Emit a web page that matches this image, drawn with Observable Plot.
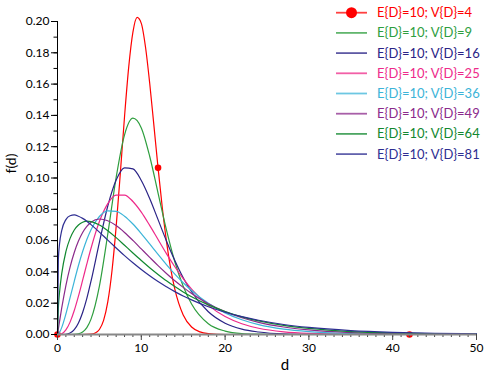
<!DOCTYPE html>
<html>
<head>
<meta charset="utf-8">
<script src="https://cdn.jsdelivr.net/npm/d3@7"></script>
<script src="https://cdn.jsdelivr.net/npm/@observablehq/plot@0.6"></script>
<style>
  html, body { margin: 0; padding: 0; background: #fff; }
  #wrap { position: relative; width: 493px; height: 375px; }
  #legend { position: absolute; left: 0; top: 0; }
</style>
</head>
<body>
<div id="wrap"></div>
<script>
// ---- data ----
const seriesLabels = ["E{D}=10; V{D}=4", "E{D}=10; V{D}=9", "E{D}=10; V{D}=16", "E{D}=10; V{D}=25",
  "E{D}=10; V{D}=36", "E{D}=10; V{D}=49", "E{D}=10; V{D}=64", "E{D}=10; V{D}=81"];
const seriesColors = ["#ff0000", "#2e9e3e", "#2a2386", "#ee2a8a", "#3cb4d8", "#8b2a8b", "#11882f", "#2e2e92"];

// V{D}=4 (own, finer d grid)
const dRed = [0, 3, 4, 4.5, 5, 5.5, 6, 6.5, 7, 7.5, 8, 8.5, 9, 9.5, 10, 10.5, 11, 11.5, 12, 12.5, 13, 13.5, 14, 15, 16, 17, 18, 20, 25, 50];
const fV4 = [0, 0, 0.0002, 0.0009, 0.0032, 0.0090, 0.0208, 0.0406, 0.0689, 0.1033, 0.1393, 0.1710, 0.1932, 0.2026, 0.1988, 0.1837, 0.1607, 0.1338, 0.1065, 0.0813, 0.0597, 0.0423, 0.0290, 0.0125, 0.0048, 0.0017, 0.0006, 0.0000, 0, 0];
const redMarkersD = [0, 12, 42];
const redMarkersF = [0, 0.1065, 0];

// shared d grid for the other series
const d = [0, 0.1, 0.25, 0.5, 1, 1.5, 2, 2.5, 3, 3.5, 4, 5, 6, 7, 8, 9, 10, 11, 12, 13, 14, 15, 16, 18, 20, 22, 24, 27, 30, 35, 40, 45, 50];
const fV9  = [0, 0, 0, 0, 0, 0, 0.0001, 0.00045, 0.0016, 0.0044, 0.0098, 0.0309, 0.0642, 0.1004, 0.1276, 0.1382, 0.1320, 0.1139, 0.0904, 0.0668, 0.0465, 0.0308, 0.0195, 0.0069, 0.0022, 0.0006, 0.0002, 0, 0, 0, 0, 0, 0];
const fV16 = [0, 0, 0, 0, 0.00015, 0.00094, 0.0031, 0.0074, 0.0141, 0.0231, 0.0341, 0.0589, 0.0821, 0.0987, 0.1065, 0.1058, 0.0984, 0.0869, 0.0734, 0.0598, 0.0473, 0.0363, 0.0273, 0.0145, 0.0072, 0.0034, 0.0016, 0.0004, 0.0001, 0, 0, 0, 0];
const fV25 = [0, 0, 0.00006, 0.0004, 0.0029, 0.0079, 0.0153, 0.0245, 0.0347, 0.0451, 0.0551, 0.0722, 0.0836, 0.0890, 0.0891, 0.0850, 0.0782, 0.0697, 0.0607, 0.0517, 0.0433, 0.0357, 0.0290, 0.0186, 0.0115, 0.0069, 0.0040, 0.0017, 0.0007, 0.00015, 0.00003, 0, 0];
const fV36 = [0, 0.0003, 0.0014, 0.0044, 0.0131, 0.0235, 0.0340, 0.0441, 0.0530, 0.0607, 0.0670, 0.0754, 0.0790, 0.0787, 0.0756, 0.0706, 0.0645, 0.0579, 0.0512, 0.0447, 0.0386, 0.0331, 0.0281, 0.0199, 0.0138, 0.0094, 0.0063, 0.0034, 0.0018, 0.0006, 0.0002, 0.00006, 0.00002];
const fV49 = [0, 0.0034, 0.0086, 0.0168, 0.0313, 0.0431, 0.0524, 0.0597, 0.0652, 0.0691, 0.0717, 0.0738, 0.0727, 0.0696, 0.0652, 0.0601, 0.0547, 0.0493, 0.0440, 0.0390, 0.0343, 0.0301, 0.0262, 0.0197, 0.0146, 0.0107, 0.0078, 0.0048, 0.0029, 0.0012, 0.0005, 0.0002, 0.00008];
const fV64 = [0, 0.0167, 0.0273, 0.0387, 0.0529, 0.0614, 0.0668, 0.0700, 0.0717, 0.0724, 0.0721, 0.0700, 0.0663, 0.0619, 0.0570, 0.0521, 0.0473, 0.0427, 0.0384, 0.0343, 0.0306, 0.0272, 0.0241, 0.0189, 0.0147, 0.0113, 0.0087, 0.0058, 0.0039, 0.0019, 0.00095, 0.00047, 0.00023];
const fV81 = [0, 0.0478, 0.0582, 0.0664, 0.0734, 0.0759, 0.0764, 0.0756, 0.0742, 0.0724, 0.0702, 0.0654, 0.0603, 0.0553, 0.0504, 0.0458, 0.0415, 0.0375, 0.0338, 0.0305, 0.0274, 0.0246, 0.0221, 0.0177, 0.0142, 0.0114, 0.0091, 0.0064, 0.0045, 0.0025, 0.0014, 0.0008, 0.0004];

// axis ticks
const xTicks = [0, 10, 20, 30, 40, 50];
const xMinorTicks = d3.range(0, 51, 1);
const yTicks = [0, 0.02, 0.04, 0.06, 0.08, 0.10, 0.12, 0.14, 0.16, 0.18, 0.20];
const yMinorTicks = d3.range(0, 0.2001, 0.01);
const xLabel = "d";
const yLabel = "f(d)";

// ---- build ----
const rows = (xs, ys) => xs.map((x, i) => ({d: x, f: ys[i]}));
const others = [fV9, fV16, fV25, fV36, fV49, fV64, fV81];
const font = "Lato, 'Liberation Sans', sans-serif";

const marks = [];
marks.push(Plot.line(rows(dRed, fV4), {x: "d", y: "f", stroke: seriesColors[0], strokeWidth: 1.2, curve: "monotone-x"}));
marks.push(Plot.dot(rows(redMarkersD, redMarkersF), {x: "d", y: "f", r: 3.3, fill: seriesColors[0], stroke: "none"}));
others.forEach((arr, i) => {
  marks.push(Plot.line(rows(d, arr), {x: "d", y: "f", stroke: seriesColors[i + 1], strokeWidth: 1.2, curve: "monotone-x"}));
});
marks.push(
  Plot.axisY({ticks: yMinorTicks, tickSize: 3.5, text: null, label: null, stroke: "#000"}),
  Plot.axisY({ticks: yTicks, tickSize: 6, tickPadding: 2, tickFormat: d3.format(".2f"), label: null, fill: "#000", stroke: "#000", fontSize: 12}),
  Plot.axisX({ticks: xMinorTicks, tickSize: 3, text: null, label: null, stroke: "#444"}),
  Plot.axisX({ticks: xTicks, tickSize: 6, tickPadding: 3, label: null, fill: "#000", stroke: "#444", fontSize: 12}),
  Plot.ruleX([0], {y1: 0, y2: 0.2, stroke: "#000", strokeWidth: 1}),
  Plot.ruleY([0], {x1: 0, x2: 50, stroke: "#888", strokeWidth: 2}),
  Plot.text([yLabel], {frameAnchor: "left", rotate: -90, dx: -45.5, dy: -14.5, fontSize: 14, fill: "#000", textAnchor: "middle"}),
  Plot.text([xLabel], {frameAnchor: "bottom", dx: 18, dy: 31, fontSize: 15, fill: "#000", lineAnchor: "middle"})
);

const chart = Plot.plot({
  width: 493,
  height: 375,
  marginLeft: 57,
  marginRight: 17,
  marginTop: 21,
  marginBottom: 41,
  x: {domain: [0, 50], label: null},
  y: {domain: [0, 0.2], label: null},
  style: {fontFamily: font, fontSize: "12px", background: "#fff", color: "#000", overflow: "visible"},
  marks
});
const wrap = document.getElementById("wrap");
wrap.appendChild(chart);

// legend overlay
const ns = "http://www.w3.org/2000/svg";
const lg = document.createElementNS(ns, "svg");
lg.setAttribute("id", "legend");
lg.setAttribute("width", 493);
lg.setAttribute("height", 175);
seriesLabels.forEach((lab, i) => {
  const y = 12.7 + 20.2 * i;
  const line = document.createElementNS(ns, "line");
  line.setAttribute("x1", 336); line.setAttribute("x2", 367);
  line.setAttribute("y1", y); line.setAttribute("y2", y);
  line.setAttribute("stroke", seriesColors[i]);
  line.setAttribute("stroke-width", 1.8);
  line.setAttribute("stroke-opacity", 0.75);
  lg.appendChild(line);
  if (i === 0) {
    const c = document.createElementNS(ns, "circle");
    c.setAttribute("cx", 351.5); c.setAttribute("cy", y); c.setAttribute("r", 5.5);
    c.setAttribute("fill", seriesColors[0]);
    lg.appendChild(c);
  }
  const t = document.createElementNS(ns, "text");
  t.setAttribute("x", 377); t.setAttribute("y", y);
  t.setAttribute("dy", "0.35em");
  t.setAttribute("fill", seriesColors[i]);
  t.setAttribute("font-family", font);
  t.setAttribute("font-size", 13);
  t.textContent = lab;
  lg.appendChild(t);
});
wrap.appendChild(lg);
</script>
</body>
</html>
